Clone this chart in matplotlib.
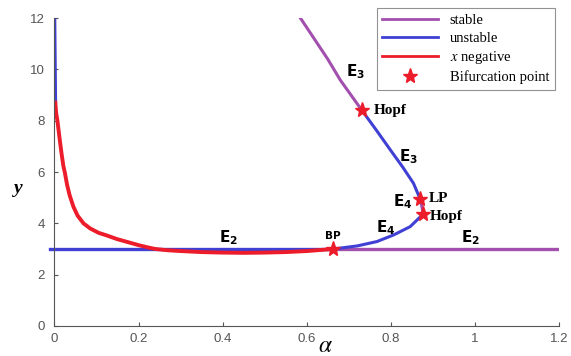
import matplotlib
matplotlib.use('Agg')
import matplotlib.pyplot as plt
from matplotlib.lines import Line2D

# colours
PURPLE = '#a24fae'
BLUE = '#4040d4'
RED = '#ec1c2a'

# E2 branch (y = 3)
e2_unstable_a = [-0.01, 0.663]
e2_unstable_y = [3.0, 3.0]
e2_stable_a = [0.663, 1.2]
e2_stable_y = [3.0, 3.0]

# left branch near alpha = 0
left_blue_a = [0.001, 0.002, 0.003]
left_blue_y = [12.0, 10.3, 8.7]

# x negative branch
red_a = [0.002, 0.004, 0.007, 0.010, 0.013, 0.017, 0.021, 0.025, 0.030, 0.036,
         0.045, 0.055, 0.069, 0.085, 0.105, 0.124, 0.15, 0.172, 0.2, 0.22,
         0.24, 0.27, 0.3, 0.35, 0.4, 0.45, 0.5, 0.55, 0.6, 0.663]
red_y = [8.7, 8.3, 8.0, 7.6, 7.2, 6.7, 6.25, 5.95, 5.5, 5.1,
         4.65, 4.3, 4.0, 3.8, 3.63, 3.53, 3.38, 3.28, 3.15, 3.07,
         3.0, 2.95, 2.92, 2.88, 2.86, 2.85, 2.86, 2.88, 2.92, 3.0]

# E3 branch
e3_stable_a = [0.585, 0.620, 0.650, 0.680, 0.731]
e3_stable_y = [12.0, 11.14, 10.4, 9.58, 8.41]
e3_unstable_a = [0.731, 0.767, 0.799, 0.828, 0.854, 0.870]
e3_unstable_y = [8.41, 7.6, 6.86, 6.2, 5.56, 4.94]

# E4 branch
e4_stable_a = [0.870, 0.874, 0.877]
e4_stable_y = [4.94, 4.65, 4.36]
e4_unstable_a = [0.877, 0.846, 0.807, 0.767, 0.720, 0.663]
e4_unstable_y = [4.36, 3.87, 3.55, 3.29, 3.12, 3.0]

# bifurcation points
bif_a = [0.663, 0.731, 0.870, 0.877]
bif_y = [3.0, 8.41, 4.94, 4.36]

fig = plt.figure(figsize=(5.71, 3.56), dpi=100)
ax = fig.add_axes([0.0954, 0.0843, 0.8835, 0.865])

ax.plot(e2_unstable_a, e2_unstable_y, color=BLUE, lw=2.4, clip_on=False)
ax.plot(e2_stable_a, e2_stable_y, color=PURPLE, lw=2.4)
ax.plot(left_blue_a, left_blue_y, color=BLUE, lw=2)
ax.plot(red_a, red_y, color=RED, lw=2.8)
ax.plot(e3_stable_a, e3_stable_y, color=PURPLE, lw=2.2)
ax.plot(e3_unstable_a, e3_unstable_y, color=BLUE, lw=2.2)
ax.plot(e4_stable_a, e4_stable_y, color=PURPLE, lw=2.2)
ax.plot(e4_unstable_a, e4_unstable_y, color=BLUE, lw=2.2)
ax.plot(bif_a, bif_y, ls='none', marker='*', ms=11, color=RED, zorder=5)

ax.set_xlim(0, 1.2)
ax.set_ylim(0, 12)
ax.set_xticks([0, 0.2, 0.4, 0.6, 0.8, 1, 1.2])
ax.set_xticklabels(['0', '0.2', '0.4', '0.6', '0.8', '1', '1.2'])
ax.set_yticks([0, 2, 4, 6, 8, 10, 12])
ax.spines['top'].set_visible(False)
ax.spines['right'].set_visible(False)
for s in ['left', 'bottom']:
    ax.spines[s].set_color('#555555')
ax.tick_params(direction='in', length=3, colors='#555555')
ax.tick_params(axis='x', pad=5)
ax.tick_params(axis='y', pad=7)
for t in ax.get_xticklabels() + ax.get_yticklabels():
    t.set_family('Liberation Sans')
    t.set_fontsize(9.5)

ax.text(0.537, -0.062, r'$\alpha$', transform=ax.transAxes, fontsize=17,
        ha='center', va='center', math_fontfamily='stix')
ax.text(-0.072, 0.448, 'y', transform=ax.transAxes, fontsize=14, family='Liberation Serif',
        fontweight='bold', style='italic', ha='center', va='center')

# branch labels
lab = dict(fontsize=11, ha='center', va='center', math_fontfamily='dejavusans')
ax.text(0.413, 3.43, r'$\mathbf{E_2}$', **lab)
ax.text(0.989, 3.43, r'$\mathbf{E_2}$', **lab)
ax.text(0.715, 9.9, r'$\mathbf{E_3}$', **lab)
ax.text(0.842, 6.58, r'$\mathbf{E_3}$', **lab)
ax.text(0.828, 4.84, r'$\mathbf{E_4}$', **lab)
ax.text(0.787, 3.82, r'$\mathbf{E_4}$', **lab)

pt = dict(fontsize=11, fontweight='bold', family='Liberation Serif', va='center')
ax.text(0.760, 8.41, 'Hopf', **pt)
ax.text(0.892, 4.28, 'Hopf', **pt)
ax.text(0.890, 4.97, 'LP', **pt)
ax.text(0.661, 3.5, 'BP', fontsize=7.5, fontweight='bold', family='DejaVu Sans',
        ha='center', va='center')

handles = [
    Line2D([], [], color=PURPLE, lw=2),
    Line2D([], [], color=BLUE, lw=2),
    Line2D([], [], color=RED, lw=2),
    Line2D([], [], ls='none', marker='*', ms=11, color=RED),
]
labels = ['stable', 'unstable', r'$x$ negative', 'Bifurcation point']
leg = ax.legend(handles, labels, loc='upper right', bbox_to_anchor=(0.992, 1.032),
                borderaxespad=0, prop={'family': 'Liberation Serif', 'size': 10.5},
                fancybox=False, edgecolor='#777777', handlelength=3.8,
                borderpad=0.4, labelspacing=0.3)
leg.get_frame().set_linewidth(0.8)
for t in leg.get_texts():
    t.set_math_fontfamily('stix')

fig.savefig('out.png', dpi=100)
